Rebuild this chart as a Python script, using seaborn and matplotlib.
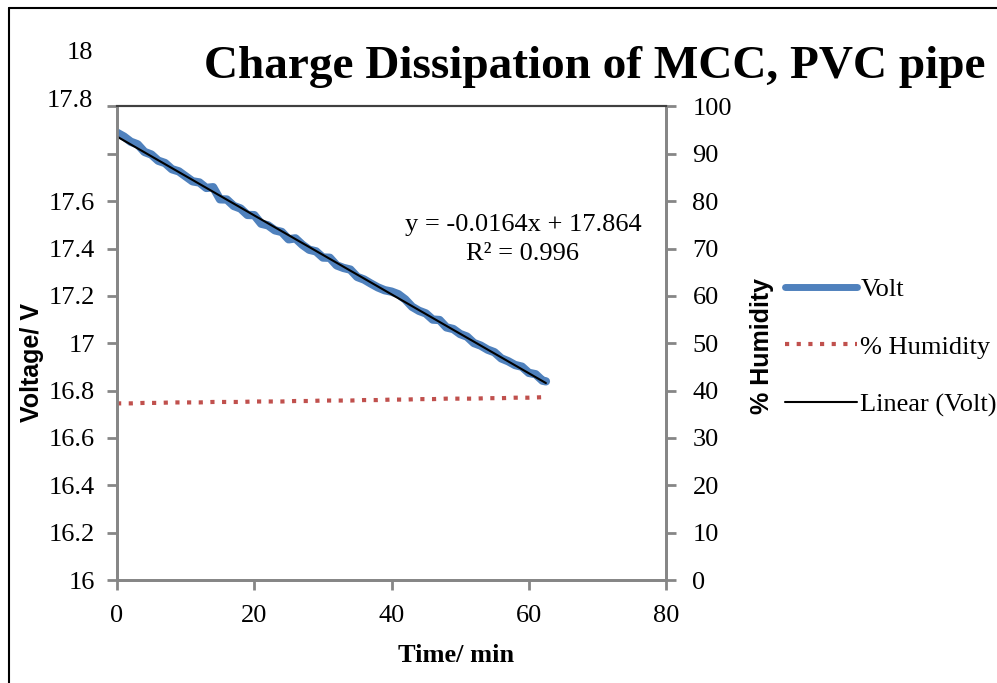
import pandas as pd
import seaborn as sns
import matplotlib.pyplot as plt
from matplotlib.lines import Line2D

# Voltage readings (V) every minute, plus last reading at 62.5 min
time_min = list(range(0, 63)) + [62.5]
volt = [17.889, 17.873, 17.851, 17.840, 17.808, 17.797, 17.771, 17.761, 17.735, 17.726,
        17.705, 17.684, 17.679, 17.656, 17.659, 17.608, 17.607, 17.580, 17.569, 17.542,
        17.541, 17.505, 17.498, 17.477, 17.470, 17.439, 17.443, 17.416, 17.395, 17.388,
        17.362, 17.361, 17.329, 17.318, 17.311, 17.280, 17.269, 17.252, 17.236, 17.224,
        17.218, 17.207, 17.185, 17.154, 17.137, 17.126, 17.100, 17.098, 17.067, 17.060,
        17.039, 17.028, 17.001, 16.990, 16.973, 16.962, 16.936, 16.924, 16.908, 16.901,
        16.875, 16.869, 16.842, 16.839]

# Humidity readings (%) every 2 minutes
hum_time = list(range(0, 63, 2)) + [62.5]
humidity = [37.3, 37.3, 37.4, 37.4, 37.5, 37.5, 37.5, 37.6, 37.6, 37.6, 37.7, 37.7,
            37.7, 37.8, 37.8, 37.9, 37.9, 37.9, 38.0, 38.0, 38.1, 38.1, 38.2, 38.2,
            38.3, 38.3, 38.3, 38.4, 38.4, 38.5, 38.5, 38.6, 38.6]

volt_ticks = [16, 16.2, 16.4, 16.6, 16.8, 17, 17.2, 17.4, 17.6, 17.8, 18]
volt_labels = ['16', '16.2', '16.4', '16.6', '16.8', '17', '17.2', '17.4', '17.6', '', '']
hum_ticks = list(range(0, 101, 10))
time_ticks = [0, 20, 40, 60, 80]

volt_df = pd.DataFrame({'Time': time_min, 'Volt': volt})
hum_df = pd.DataFrame({'Time': hum_time, 'Humidity': humidity})

sns.set_style('white')
plt.rcParams['font.family'] = ['Liberation Serif', 'DejaVu Serif']
plt.rcParams['text.color'] = 'black'
plt.rcParams['axes.labelcolor'] = 'black'
plt.rcParams['xtick.color'] = 'black'
plt.rcParams['ytick.color'] = 'black'

blue = '#4F81BD'
red = '#C0504D'
grey = '#868686'
fs = 19

fig = plt.figure(figsize=(9.97, 6.83), dpi=100)
ax = fig.add_axes([0.1174, 0.1508, 0.5506, 0.6933])
ax2 = ax.twinx()

sns.lineplot(data=volt_df, x='Time', y='Volt', ax=ax, color=blue, lw=6,
             solid_capstyle='round', zorder=3)
sns.regplot(data=volt_df, x='Time', y='Volt', ax=ax, scatter=False, ci=None,
            line_kws={'color': 'black', 'lw': 1.5, 'zorder': 4})
sns.lineplot(data=hum_df, x='Time', y='Humidity', ax=ax2, color=red, lw=3,
             linestyle=(0, (1, 1.8)))

ax.set_xlim(0, 80)
ax.set_ylim(16, 18)
ax2.set_ylim(0, 100)
ax.set_xticks(time_ticks)
ax.set_yticks(volt_ticks)
ax.set_yticklabels(volt_labels)
ax2.set_yticks(hum_ticks)

for a in (ax, ax2):
    for s in ['left', 'right', 'bottom']:
        a.spines[s].set_color(grey)
        a.spines[s].set_linewidth(2)
    a.spines['top'].set_color('#404040')
    a.spines['top'].set_linewidth(1.5)
    a.tick_params(length=7, width=2, color=grey, labelsize=fs, direction='out')
ax.tick_params(axis='y', left=True, pad=9)
ax.tick_params(axis='x', bottom=True, pad=11)
ax2.tick_params(axis='y', right=True, pad=12)

ax.set_xlabel('')
ax.set_ylabel('')
ax2.set_ylabel('')
fig.text(456 / 997, 1 - 655 / 683, 'Time/ min', ha='center', va='center',
         fontsize=fs, fontweight='bold')
fig.text(32 / 997, 1 - 362 / 683, 'Voltage/ V', ha='center', va='center',
         rotation=90, fontsize=18, fontweight='bold',
         family=['Liberation Sans', 'DejaVu Sans'])
fig.text(762 / 997, 1 - 346 / 683, '% Humidity', ha='center', va='center',
         rotation=90, fontsize=18, fontweight='bold',
         family=['Liberation Sans', 'DejaVu Sans'])

# top two left labels sit displaced above the plot area, as in the source
fig.text(93 / 997, 1 - 101 / 683, '17.8', ha='right', va='center', fontsize=fs)
fig.text(93 / 997, 1 - 53 / 683, '18', ha='right', va='center', fontsize=fs)

fig.text(595 / 997, 1 - 67 / 683, 'Charge Dissipation of MCC, PVC pipe',
         ha='center', va='center', fontsize=34, fontweight='bold')

fig.text(523 / 997, 1 - 225 / 683, 'y = -0.0164x + 17.864', ha='center',
         va='center', fontsize=fs)
fig.text(523 / 997, 1 - 254 / 683, 'R² = 0.996', ha='center', va='center', fontsize=fs)

handles = [Line2D([], [], color=blue, lw=5),
           Line2D([], [], color=red, lw=3, linestyle=(0, (1, 1.8))),
           Line2D([], [], color='black', lw=1.5)]
fig.legend(handles, ['Volt', '% Humidity', 'Linear (Volt)'], loc='center left',
           bbox_to_anchor=(780 / 997, 1 - 347 / 683), frameon=False, fontsize=fs,
           handlelength=2.7, handletextpad=0.15, labelspacing=1.3,
           borderaxespad=0, borderpad=0.2)

# outer chart border (left and top edges visible)
fig.add_artist(Line2D([9 / 997, 9 / 997], [0, 1 - 8 / 683], color='black', lw=1.5))
fig.add_artist(Line2D([9 / 997, 1], [1 - 8 / 683, 1 - 8 / 683], color='black', lw=1.5))

fig.savefig('out.png', dpi=100)
plt.close(fig)
